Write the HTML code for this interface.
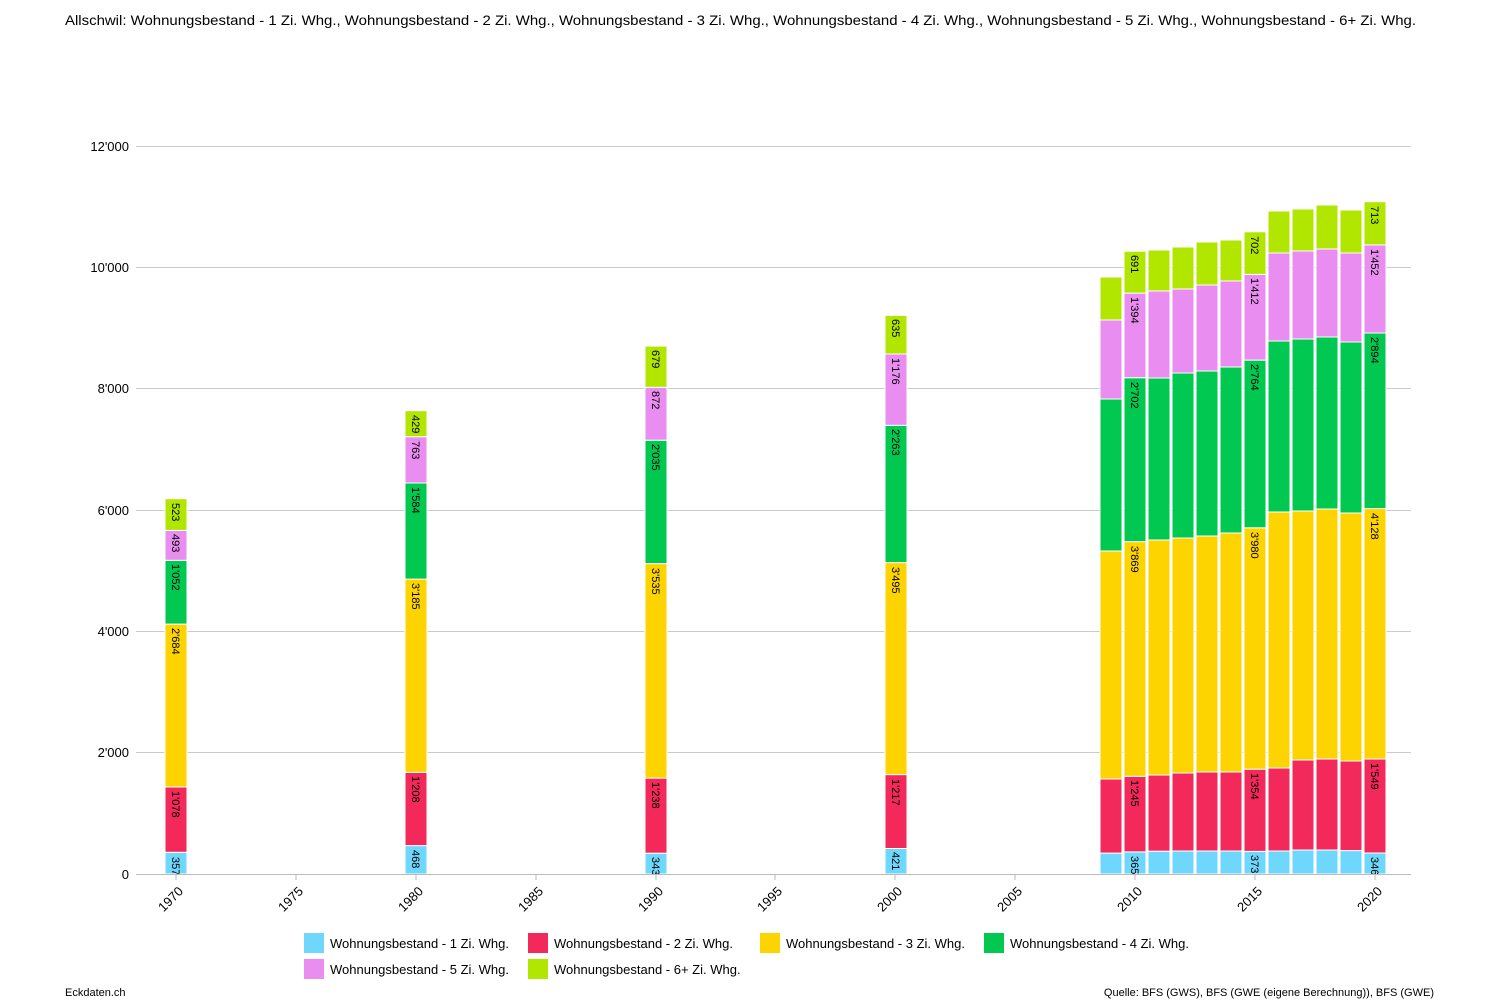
<!DOCTYPE html>
<html><head><meta charset="utf-8"><style>
body{margin:0;background:#fff;}
svg{display:block;font-family:"Liberation Sans",Arial,sans-serif;}
.lb{font-size:11px;fill:#000;}
.ax{font-size:13px;fill:#000;}
</style></head><body>
<svg width="1500" height="1000" viewBox="0 0 1500 1000">
<text x="65" y="25" font-size="14" fill="#000" textLength="1351" lengthAdjust="spacingAndGlyphs">Allschwil: Wohnungsbestand - 1 Zi. Whg., Wohnungsbestand - 2 Zi. Whg., Wohnungsbestand - 3 Zi. Whg., Wohnungsbestand - 4 Zi. Whg., Wohnungsbestand - 5 Zi. Whg., Wohnungsbestand - 6+ Zi. Whg.</text>
<g stroke="#ccc" stroke-width="1">
<line x1="136" x2="1411" y1="752.5" y2="752.5"/><line x1="136" x2="1411" y1="631.5" y2="631.5"/><line x1="136" x2="1411" y1="510.5" y2="510.5"/><line x1="136" x2="1411" y1="388.5" y2="388.5"/><line x1="136" x2="1411" y1="267.5" y2="267.5"/><line x1="136" x2="1411" y1="146.5" y2="146.5"/>
</g>
<g class="ax" text-anchor="end">
<text x="129" y="879">0</text><text x="129" y="757">2'000</text><text x="129" y="636">4'000</text><text x="129" y="515">6'000</text><text x="129" y="393">8'000</text><text x="129" y="272">10'000</text><text x="129" y="151">12'000</text>
</g>
<g stroke="#fff" stroke-width="1">
<rect x="165" y="852.3" width="22" height="21.7" fill="#6fd7fb"/><rect x="165" y="786.9" width="22" height="65.4" fill="#f2295a"/><rect x="165" y="624.1" width="22" height="162.8" fill="#fdd400"/><rect x="165" y="560.3" width="22" height="63.8" fill="#00c850"/><rect x="165" y="530.4" width="22" height="29.9" fill="#e98ef0"/><rect x="165" y="498.7" width="22" height="31.7" fill="#b0e600"/>
<rect x="405" y="845.6" width="22" height="28.4" fill="#6fd7fb"/><rect x="405" y="772.3" width="22" height="73.3" fill="#f2295a"/><rect x="405" y="579.1" width="22" height="193.2" fill="#fdd400"/><rect x="405" y="483" width="22" height="96.1" fill="#00c850"/><rect x="405" y="436.7" width="22" height="46.3" fill="#e98ef0"/><rect x="405" y="410.7" width="22" height="26" fill="#b0e600"/>
<rect x="645" y="853.2" width="22" height="20.8" fill="#6fd7fb"/><rect x="645" y="778.1" width="22" height="75.1" fill="#f2295a"/><rect x="645" y="563.6" width="22" height="214.5" fill="#fdd400"/><rect x="645" y="440.2" width="22" height="123.4" fill="#00c850"/><rect x="645" y="387.3" width="22" height="52.9" fill="#e98ef0"/><rect x="645" y="346.1" width="22" height="41.2" fill="#b0e600"/>
<rect x="885" y="848.5" width="22" height="25.5" fill="#6fd7fb"/><rect x="885" y="774.6" width="22" height="73.9" fill="#f2295a"/><rect x="885" y="562.6" width="22" height="212" fill="#fdd400"/><rect x="885" y="425.3" width="22" height="137.3" fill="#00c850"/><rect x="885" y="354" width="22" height="71.3" fill="#e98ef0"/><rect x="885" y="315.4" width="22" height="38.6" fill="#b0e600"/>
<rect x="1100" y="853.1" width="22" height="20.9" fill="#6fd7fb"/><rect x="1100" y="779" width="22" height="74.1" fill="#f2295a"/><rect x="1100" y="551" width="22" height="228" fill="#fdd400"/><rect x="1100" y="399" width="22" height="152" fill="#00c850"/><rect x="1100" y="320" width="22" height="79" fill="#e98ef0"/><rect x="1100" y="277" width="22" height="43" fill="#b0e600"/>
<rect x="1124" y="851.9" width="22" height="22.1" fill="#6fd7fb"/><rect x="1124" y="776.3" width="22" height="75.6" fill="#f2295a"/><rect x="1124" y="541.6" width="22" height="234.7" fill="#fdd400"/><rect x="1124" y="377.7" width="22" height="163.9" fill="#00c850"/><rect x="1124" y="293.1" width="22" height="84.6" fill="#e98ef0"/><rect x="1124" y="251.2" width="22" height="41.9" fill="#b0e600"/>
<rect x="1148" y="851.2" width="22" height="22.8" fill="#6fd7fb"/><rect x="1148" y="775" width="22" height="76.2" fill="#f2295a"/><rect x="1148" y="540" width="22" height="235" fill="#fdd400"/><rect x="1148" y="378" width="22" height="162" fill="#00c850"/><rect x="1148" y="291" width="22" height="87" fill="#e98ef0"/><rect x="1148" y="250" width="22" height="41" fill="#b0e600"/>
<rect x="1172" y="851" width="22" height="23" fill="#6fd7fb"/><rect x="1172" y="773" width="22" height="78" fill="#f2295a"/><rect x="1172" y="538" width="22" height="235" fill="#fdd400"/><rect x="1172" y="373" width="22" height="165" fill="#00c850"/><rect x="1172" y="289" width="22" height="84" fill="#e98ef0"/><rect x="1172" y="247" width="22" height="42" fill="#b0e600"/>
<rect x="1196" y="851" width="22" height="23" fill="#6fd7fb"/><rect x="1196" y="772" width="22" height="79" fill="#f2295a"/><rect x="1196" y="536" width="22" height="236" fill="#fdd400"/><rect x="1196" y="371" width="22" height="165" fill="#00c850"/><rect x="1196" y="285" width="22" height="86" fill="#e98ef0"/><rect x="1196" y="242" width="22" height="43" fill="#b0e600"/>
<rect x="1220" y="851" width="22" height="23" fill="#6fd7fb"/><rect x="1220" y="772" width="22" height="79" fill="#f2295a"/><rect x="1220" y="533" width="22" height="239" fill="#fdd400"/><rect x="1220" y="367" width="22" height="166" fill="#00c850"/><rect x="1220" y="281" width="22" height="86" fill="#e98ef0"/><rect x="1220" y="240" width="22" height="41" fill="#b0e600"/>
<rect x="1244" y="851.4" width="22" height="22.6" fill="#6fd7fb"/><rect x="1244" y="769.2" width="22" height="82.2" fill="#f2295a"/><rect x="1244" y="527.8" width="22" height="241.4" fill="#fdd400"/><rect x="1244" y="360.1" width="22" height="167.7" fill="#00c850"/><rect x="1244" y="274.4" width="22" height="85.7" fill="#e98ef0"/><rect x="1244" y="231.8" width="22" height="42.6" fill="#b0e600"/>
<rect x="1268" y="851" width="22" height="23" fill="#6fd7fb"/><rect x="1268" y="768" width="22" height="83" fill="#f2295a"/><rect x="1268" y="512" width="22" height="256" fill="#fdd400"/><rect x="1268" y="341" width="22" height="171" fill="#00c850"/><rect x="1268" y="253" width="22" height="88" fill="#e98ef0"/><rect x="1268" y="211" width="22" height="42" fill="#b0e600"/>
<rect x="1292" y="850" width="22" height="24" fill="#6fd7fb"/><rect x="1292" y="760" width="22" height="90" fill="#f2295a"/><rect x="1292" y="511" width="22" height="249" fill="#fdd400"/><rect x="1292" y="339" width="22" height="172" fill="#00c850"/><rect x="1292" y="251" width="22" height="88" fill="#e98ef0"/><rect x="1292" y="209" width="22" height="42" fill="#b0e600"/>
<rect x="1316" y="850" width="22" height="24" fill="#6fd7fb"/><rect x="1316" y="759" width="22" height="91" fill="#f2295a"/><rect x="1316" y="509" width="22" height="250" fill="#fdd400"/><rect x="1316" y="337" width="22" height="172" fill="#00c850"/><rect x="1316" y="249" width="22" height="88" fill="#e98ef0"/><rect x="1316" y="205" width="22" height="44" fill="#b0e600"/>
<rect x="1340" y="850.6" width="22" height="23.4" fill="#6fd7fb"/><rect x="1340" y="761" width="22" height="89.6" fill="#f2295a"/><rect x="1340" y="513" width="22" height="248" fill="#fdd400"/><rect x="1340" y="342" width="22" height="171" fill="#00c850"/><rect x="1340" y="253" width="22" height="89" fill="#e98ef0"/><rect x="1340" y="210" width="22" height="43" fill="#b0e600"/>
<rect x="1364" y="853" width="22" height="21" fill="#6fd7fb"/><rect x="1364" y="759" width="22" height="94" fill="#f2295a"/><rect x="1364" y="508.6" width="22" height="250.4" fill="#fdd400"/><rect x="1364" y="333" width="22" height="175.6" fill="#00c850"/><rect x="1364" y="244.9" width="22" height="88.1" fill="#e98ef0"/><rect x="1364" y="201.7" width="22" height="43.2" fill="#b0e600"/>
</g>
<g class="lb">
<text transform="translate(172,857) rotate(90)">357</text><text transform="translate(172,791) rotate(90)">1'078</text><text transform="translate(172,628) rotate(90)">2'684</text><text transform="translate(172,564) rotate(90)">1'052</text><text transform="translate(172,534) rotate(90)">493</text><text transform="translate(172,503) rotate(90)">523</text>
<text transform="translate(412,850) rotate(90)">468</text><text transform="translate(412,776) rotate(90)">1'208</text><text transform="translate(412,583) rotate(90)">3'185</text><text transform="translate(412,487) rotate(90)">1'584</text><text transform="translate(412,441) rotate(90)">763</text><text transform="translate(412,415) rotate(90)">429</text>
<text transform="translate(652,857) rotate(90)">343</text><text transform="translate(652,782) rotate(90)">1'238</text><text transform="translate(652,568) rotate(90)">3'535</text><text transform="translate(652,444) rotate(90)">2'035</text><text transform="translate(652,391) rotate(90)">872</text><text transform="translate(652,350) rotate(90)">679</text>
<text transform="translate(892,852) rotate(90)">421</text><text transform="translate(892,779) rotate(90)">1'217</text><text transform="translate(892,567) rotate(90)">3'495</text><text transform="translate(892,429) rotate(90)">2'263</text><text transform="translate(892,358) rotate(90)">1'176</text><text transform="translate(892,319) rotate(90)">635</text>
<text transform="translate(1131,856) rotate(90)">365</text><text transform="translate(1131,780) rotate(90)">1'245</text><text transform="translate(1131,546) rotate(90)">3'869</text><text transform="translate(1131,382) rotate(90)">2'702</text><text transform="translate(1131,297) rotate(90)">1'394</text><text transform="translate(1131,255) rotate(90)">691</text>
<text transform="translate(1251,855) rotate(90)">373</text><text transform="translate(1251,773) rotate(90)">1'354</text><text transform="translate(1251,532) rotate(90)">3'980</text><text transform="translate(1251,364) rotate(90)">2'764</text><text transform="translate(1251,278) rotate(90)">1'412</text><text transform="translate(1251,236) rotate(90)">702</text>
<text transform="translate(1371,857) rotate(90)">346</text><text transform="translate(1371,763) rotate(90)">1'549</text><text transform="translate(1371,513) rotate(90)">4'128</text><text transform="translate(1371,337) rotate(90)">2'894</text><text transform="translate(1371,249) rotate(90)">1'452</text><text transform="translate(1371,206) rotate(90)">713</text>
</g>
<line x1="136" x2="1411" y1="874.5" y2="874.5" stroke="#bbb" stroke-width="1"/>
<g stroke="#bbb"><line x1="176" x2="176" y1="875" y2="880"/><line x1="296" x2="296" y1="875" y2="880"/><line x1="416" x2="416" y1="875" y2="880"/><line x1="536" x2="536" y1="875" y2="880"/><line x1="656" x2="656" y1="875" y2="880"/><line x1="775" x2="775" y1="875" y2="880"/><line x1="895" x2="895" y1="875" y2="880"/><line x1="1015" x2="1015" y1="875" y2="880"/><line x1="1135" x2="1135" y1="875" y2="880"/><line x1="1255" x2="1255" y1="875" y2="880"/><line x1="1375" x2="1375" y1="875" y2="880"/></g>
<g class="ax" text-anchor="end">
<text transform="translate(184,892) rotate(-45)">1970</text><text transform="translate(304,892) rotate(-45)">1975</text><text transform="translate(424,892) rotate(-45)">1980</text><text transform="translate(544,892) rotate(-45)">1985</text><text transform="translate(664,892) rotate(-45)">1990</text><text transform="translate(783,892) rotate(-45)">1995</text><text transform="translate(903,892) rotate(-45)">2000</text><text transform="translate(1023,892) rotate(-45)">2005</text><text transform="translate(1143,892) rotate(-45)">2010</text><text transform="translate(1263,892) rotate(-45)">2015</text><text transform="translate(1383,892) rotate(-45)">2020</text>
</g>
<g class="ax">
<rect x="304" y="933" width="20" height="20" fill="#6fd7fb"/><text x="330" y="948">Wohnungsbestand - 1 Zi. Whg.</text>
<rect x="528" y="933" width="20" height="20" fill="#f2295a"/><text x="554" y="948">Wohnungsbestand - 2 Zi. Whg.</text>
<rect x="760" y="933" width="20" height="20" fill="#fdd400"/><text x="786" y="948">Wohnungsbestand - 3 Zi. Whg.</text>
<rect x="984" y="933" width="20" height="20" fill="#00c850"/><text x="1010" y="948">Wohnungsbestand - 4 Zi. Whg.</text>
<rect x="304" y="959" width="20" height="20" fill="#e98ef0"/><text x="330" y="974">Wohnungsbestand - 5 Zi. Whg.</text>
<rect x="528" y="959" width="20" height="20" fill="#b0e600"/><text x="554" y="974">Wohnungsbestand - 6+ Zi. Whg.</text>
</g>
<text x="65" y="996" font-size="11" fill="#000">Eckdaten.ch</text>
<text x="1434" y="996" font-size="11" fill="#000" text-anchor="end">Quelle: BFS (GWS), BFS (GWE (eigene Berechnung)), BFS (GWE)</text>
</svg>
</body></html>
